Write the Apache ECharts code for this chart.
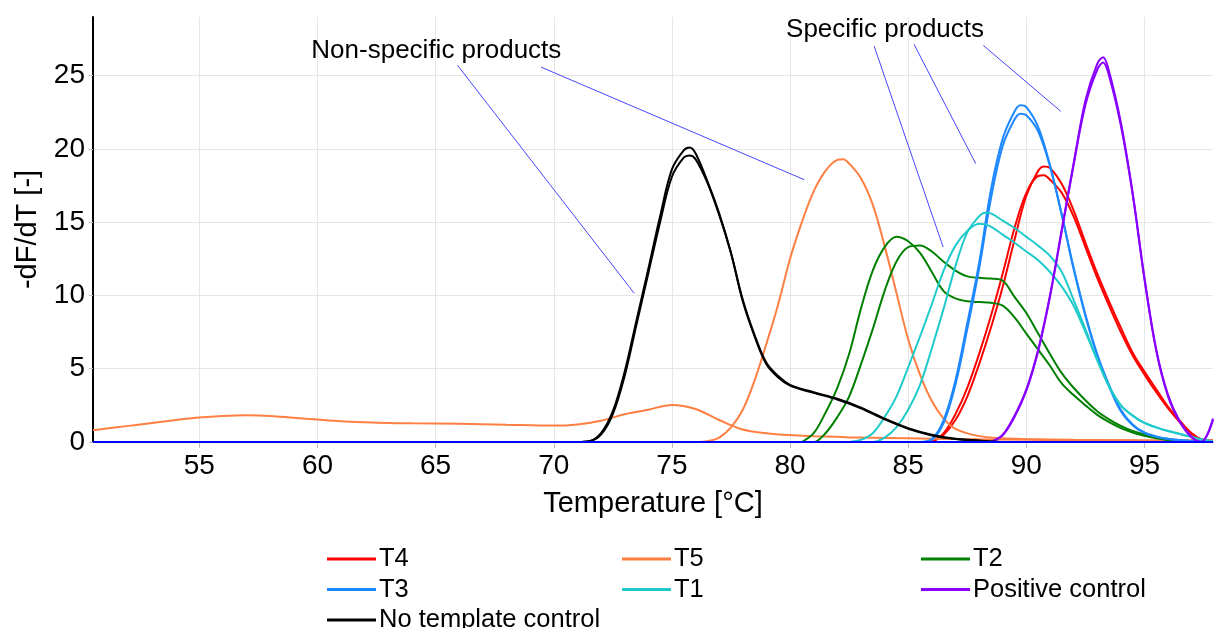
<!DOCTYPE html>
<html>
<head>
<meta charset="utf-8">
<title>Melt curves</title>
<script src="https://cdn.jsdelivr.net/npm/echarts@6/dist/echarts.min.js"></script>
<style>
  html, body { margin: 0; padding: 0; background: #ffffff; }
  #chart { width: 1215px; height: 628px; }
</style>
</head>
<body>
<div id="chart"></div>
<script>
// Melt-curve derivative data (-dF/dT) per sample, two replicates each.
// Each sample has its own temperature list (°C) and one value list per replicate.

const ntcTemps = [71, 71.5, 72, 72.5, 73, 73.5, 74, 74.5, 75, 75.5, 75.75, 76, 76.5, 77, 77.5, 78, 78.5, 79, 79.5, 80, 81, 82, 83, 84, 85, 86, 87, 88, 89, 90, 97.9];
const ntcRep1 = [0, 0.05, 0.6, 2.1, 4.8, 8.3, 11.8, 15.4, 18.6, 19.9, 20.1, 19.7, 17.8, 15.6, 12.9, 9.6, 7.2, 5.3, 4.4, 3.85, 3.35, 2.9, 2.3, 1.55, 0.9, 0.45, 0.2, 0.08, 0, 0, 0];
const ntcRep2 = [0, 0.05, 0.5, 1.9, 4.5, 8.0, 11.5, 15.0, 18.1, 19.4, 19.55, 19.3, 17.7, 15.5, 12.9, 9.7, 7.3, 5.4, 4.5, 3.9, 3.4, 2.95, 2.35, 1.6, 0.95, 0.5, 0.22, 0.1, 0, 0, 0];

const t5Temps1 = [50.5, 52, 53, 54, 55, 56, 57, 58, 59, 60, 61, 62, 63, 64, 66, 68, 70, 71, 72, 73, 74, 75, 76, 77, 78, 79, 80, 81, 82, 83, 84, 86, 88, 90, 92, 94, 96, 97.9];
const t5Rep1 = [0.8, 1.1, 1.3, 1.5, 1.68, 1.78, 1.82, 1.78, 1.65, 1.53, 1.42, 1.35, 1.3, 1.28, 1.25, 1.18, 1.12, 1.2, 1.45, 1.9, 2.2, 2.53, 2.25, 1.5, 0.85, 0.6, 0.47, 0.4, 0.35, 0.3, 0.28, 0.22, 0.18, 0.15, 0.12, 0.12, 0.1, 0.1];
const t5Temps2 = [76, 76.5, 77, 77.5, 78, 78.5, 79, 79.5, 80, 80.5, 81, 81.5, 82, 82.25, 82.5, 83, 83.5, 84, 84.5, 85, 85.5, 86, 86.5, 87, 88, 89, 90, 92, 94, 96, 97.9];
const t5Rep2 = [0, 0.05, 0.3, 1.0, 2.2, 4.2, 6.7, 9.4, 12.5, 15.0, 17.1, 18.5, 19.25, 19.3, 19.0, 18.0, 16.2, 13.4, 10.2, 7.0, 4.6, 2.8, 1.6, 0.9, 0.4, 0.25, 0.2, 0.15, 0.12, 0.1, 0.1];

const t2Temps = [80.5, 81, 81.5, 82, 82.5, 83, 83.5, 84, 84.5, 85, 85.5, 86, 86.5, 87, 87.5, 88, 88.5, 89, 89.5, 90, 90.5, 91, 91.5, 92, 92.5, 93, 93.5, 94, 94.5, 95, 95.5, 96, 96.5, 97];
const t2Rep1 = [0, 0.6, 2.0, 3.7, 6.0, 9.1, 11.7, 13.3, 14.0, 13.7, 12.9, 11.6, 10.3, 9.8, 9.6, 9.55, 9.5, 9.3, 8.5, 7.4, 6.3, 5.2, 4.0, 3.2, 2.5, 1.85, 1.35, 0.95, 0.65, 0.42, 0.25, 0.12, 0.04, 0];
const t2Rep2 = [0, 0, 0.6, 1.7, 3.1, 5.3, 7.7, 10.3, 12.3, 13.3, 13.4, 13.0, 12.3, 11.7, 11.3, 11.2, 11.15, 11.0, 9.9, 8.8, 7.4, 6.0, 4.7, 3.7, 2.85, 2.1, 1.55, 1.1, 0.75, 0.5, 0.3, 0.15, 0.05, 0];

const t1Temps = [82.5, 83, 83.5, 84, 84.5, 85, 85.5, 86, 86.5, 87, 87.5, 88, 88.25, 88.5, 89, 89.5, 90, 90.5, 91, 91.5, 92, 92.5, 93, 93.5, 94, 94.5, 95, 95.5, 96, 96.5, 97, 97.5, 97.9];
const t1Rep1 = [0, 0.15, 0.6, 1.7, 3.1, 5.1, 7.2, 9.4, 11.7, 13.4, 14.4, 14.9, 14.85, 14.7, 14.15, 13.6, 13.0, 12.4, 11.6, 10.6, 9.3, 7.5, 5.6, 3.8, 2.5, 1.8, 1.3, 1.0, 0.75, 0.55, 0.35, 0.15, 0.05];
const t1Rep2 = [0, 0, 0, 0.3, 1.0, 2.2, 3.9, 6.4, 9.1, 12.0, 14.3, 15.4, 15.65, 15.6, 15.1, 14.6, 14.0, 13.4, 12.7, 11.6, 9.7, 7.7, 5.6, 3.8, 2.5, 1.8, 1.3, 1.0, 0.75, 0.55, 0.35, 0.15, 0.05];

const t3Temps = [85.5, 86, 86.5, 87, 87.5, 88, 88.5, 89, 89.5, 89.75, 90, 90.5, 91, 91.5, 92, 92.5, 93, 93.5, 94, 94.5, 95, 95.5, 96, 96.5, 97, 97.5, 97.9];
const t3Rep1 = [0, 0.2, 1.5, 4.2, 8.1, 12.2, 17.2, 20.7, 22.55, 22.97, 22.85, 21.5, 18.9, 15.5, 11.8, 8.6, 5.9, 3.8, 2.1, 1.15, 0.6, 0.35, 0.2, 0.12, 0.06, 0.02, 0];
const t3Rep2 = [0, 0.15, 1.3, 3.9, 7.7, 11.8, 16.6, 20.2, 22.0, 22.4, 22.3, 21.2, 18.8, 15.5, 11.9, 8.7, 6.0, 3.9, 2.2, 1.2, 0.65, 0.38, 0.22, 0.13, 0.06, 0.02, 0];

const t4Temps = [86, 86.5, 87, 87.5, 88, 88.5, 89, 89.5, 90, 90.5, 90.75, 91, 91.5, 92, 92.5, 93, 93.5, 94, 94.5, 95, 95.5, 96, 96.5, 97, 97.5, 97.9];
const t4Rep1 = [0, 0.5, 1.5, 3.1, 5.3, 7.8, 10.6, 13.8, 16.8, 18.5, 18.8, 18.7, 17.6, 15.8, 13.6, 11.5, 9.6, 7.8, 6.1, 4.8, 3.6, 2.4, 1.45, 0.6, 0.15, 0.1];
const t4Rep2 = [0, 0.6, 1.9, 3.7, 6.0, 8.6, 11.5, 14.6, 17.0, 18.15, 18.2, 17.9, 17.0, 15.4, 13.3, 11.2, 9.3, 7.5, 5.9, 4.6, 3.4, 2.3, 1.35, 0.55, 0.12, 0.1];

const pcTemps = [88.5, 89, 89.5, 90, 90.5, 91, 91.5, 92, 92.5, 93, 93.25, 93.5, 94, 94.5, 95, 95.5, 96, 96.5, 97, 97.4, 97.9];
const pcRep1 = [0, 0.5, 1.8, 3.6, 6.3, 10.0, 14.5, 19.0, 23.3, 25.8, 26.26, 25.3, 21.8, 17.0, 11.2, 6.3, 3.2, 1.4, 0.35, 0, 1.6];
const pcRep2 = [0, 0.45, 1.7, 3.5, 6.2, 9.9, 14.4, 18.9, 23.0, 25.4, 25.9, 25.0, 21.6, 16.9, 11.1, 6.2, 3.1, 1.35, 0.3, 0, 1.5];

// flat trace along zero across the full temperature range
const baselineTemps = [50.5, 97.9];
const baselineValues = [0, 0];

// axis ranges and tick step
const xRange = [50.5, 97.9];
const yRange = [0, 29];
const tickStep = 5;

// callout texts and their leader lines (in data units)
const calloutTexts = ['Non-specific products', 'Specific products'];
const calloutAnchors = [[65.03, 26.72], [84.02, 28.15]];
const leaderLines = [
  [[65.93, 25.7], [73.41, 10.14]],
  [[69.46, 25.58], [80.6, 17.9]],
  [[83.56, 27.01], [86.48, 13.3]],
  [[85.25, 27.13], [87.86, 18.99]],
  [[88.18, 27.06], [91.46, 22.56]]
];

// sample definitions (draw order)
const samples = [
  { name: 'T4', curves: [[t4Temps, t4Rep1], [t4Temps, t4Rep2]] },
  { name: 'T5', curves: [[t5Temps1, t5Rep1], [t5Temps2, t5Rep2]] },
  { name: 'T2', curves: [[t2Temps, t2Rep1], [t2Temps, t2Rep2]] },
  { name: 'T3', curves: [[t3Temps, t3Rep1], [t3Temps, t3Rep2]] },
  { name: 'T1', curves: [[t1Temps, t1Rep1], [t1Temps, t1Rep2]] },
  { name: 'Positive control', curves: [[pcTemps, pcRep1], [pcTemps, pcRep2]] },
  { name: 'No template control', curves: [[ntcTemps, ntcRep1], [ntcTemps, ntcRep2]] }
];

const palette = {
  'T4': '#ff0000',
  'T5': '#ff7f42',
  'T2': '#008000',
  'T3': '#1e88ff',
  'T1': '#1fcaca',
  'Positive control': '#8a00ff',
  'No template control': '#000000'
};

const FONT = "'Liberation Sans', Arial, sans-serif";
const toPoints = (t, v) => t.map((x, i) => [x, v[i]]);

const series = [];
samples.forEach(s => {
  s.curves.forEach(([t, v]) => {
    series.push({
      name: s.name,
      type: 'line',
      data: toPoints(t, v),
      smooth: 0.35,
      showSymbol: false,
      symbol: 'none',
      lineStyle: { color: palette[s.name], width: 2 },
      itemStyle: { color: palette[s.name] },
      emphasis: { disabled: true },
      z: 3
    });
  });
});

series.push({
  name: 'baseline',
  type: 'line',
  data: toPoints(baselineTemps, baselineValues),
  showSymbol: false,
  symbol: 'none',
  lineStyle: { color: '#0000ff', width: 2 },
  emphasis: { disabled: true },
  z: 4,
  markLine: {
    silent: true,
    symbol: ['none', 'none'],
    label: { show: false },
    lineStyle: { color: '#4646ff', width: 1, type: 'solid' },
    emphasis: { disabled: true },
    data: leaderLines.map(([a, b]) => [{ coord: a }, { coord: b }])
  },
  markPoint: {
    silent: true,
    symbol: 'circle',
    symbolSize: 0,
    label: {
      show: true,
      position: 'inside',
      color: '#000',
      fontSize: 26,
      fontFamily: FONT,
      formatter: p => p.name
    },
    data: calloutTexts.map((txt, i) => ({ name: txt, coord: calloutAnchors[i] }))
  }
});

const legendBase = {
  orient: 'vertical',
  padding: 0,
  height: 100,
  itemWidth: 49,
  itemHeight: 3,
  icon: 'rect',
  itemGap: 4.5,
  selectedMode: false,
  textStyle: { fontSize: 25.5, color: '#000', fontFamily: FONT, lineHeight: 25, padding: [0, 0, 0, -2] }
};

const option = {
  animation: false,
  backgroundColor: '#ffffff',
  textStyle: { fontFamily: FONT },
  grid: { left: 93, right: 2, top: 17, bottom: 186, containLabel: false },
  legend: [
    Object.assign({}, legendBase, { left: 327, top: 546, data: ['T4', 'T3', 'No template control'] }),
    Object.assign({}, legendBase, { left: 622, top: 546, data: ['T5', 'T1'] }),
    Object.assign({}, legendBase, { left: 921, top: 546, data: ['T2', 'Positive control'] })
  ],
  xAxis: {
    type: 'value',
    min: xRange[0],
    max: xRange[1],
    minInterval: tickStep,
    maxInterval: tickStep,
    name: 'Temperature [°C]',
    nameLocation: 'middle',
    nameGap: 47,
    nameTextStyle: { fontSize: 29, color: '#000', fontFamily: FONT },
    axisLine: { show: true, lineStyle: { color: '#000', width: 1 } },
    axisTick: { show: true, length: 6, lineStyle: { color: '#bdbdbd' } },
    axisLabel: { fontSize: 28, color: '#000', margin: 10, showMinLabel: false, showMaxLabel: false, fontFamily: FONT },
    splitLine: { show: true, showMinLine: false, showMaxLine: false, lineStyle: { color: '#e6e6e6', width: 1 } }
  },
  yAxis: {
    type: 'value',
    min: yRange[0],
    max: yRange[1],
    interval: tickStep,
    name: '-dF/dT [-]',
    nameLocation: 'middle',
    nameGap: 50,
    nameTextStyle: { fontSize: 29, color: '#000', fontFamily: FONT },
    axisLine: { show: true, lineStyle: { color: '#000', width: 2 } },
    axisTick: { show: true, length: 4, lineStyle: { color: '#bdbdbd' } },
    axisLabel: { fontSize: 28, color: '#000', margin: 8, showMaxLabel: false, fontFamily: FONT },
    splitLine: { show: true, showMaxLine: false, lineStyle: { color: '#e6e6e6', width: 1 } }
  },
  series: series
};

const chart = echarts.init(document.getElementById('chart'), null, { renderer: 'canvas' });
chart.setOption(option);
</script>
</body>
</html>
